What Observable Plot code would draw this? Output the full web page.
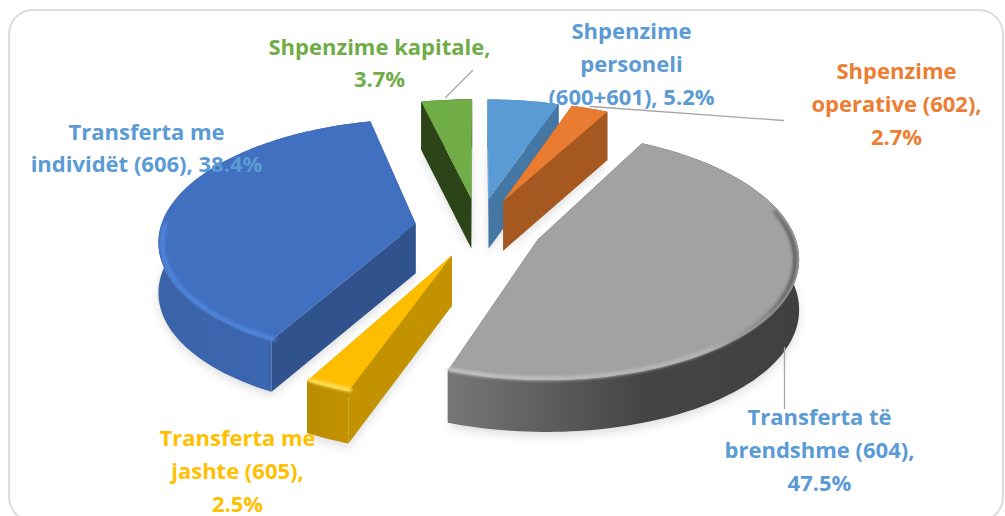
<!DOCTYPE html>
<html>
<head>
<meta charset="utf-8">
<script src="https://cdn.jsdelivr.net/npm/d3@7"></script>
<script src="https://cdn.jsdelivr.net/npm/@observablehq/plot@0.6"></script>
<style>html,body{margin:0;padding:0;background:#fff;overflow:hidden}svg{display:block}</style>
</head>
<body>
<div id="chart"></div>
<script>
// Data
const categories = ["Shpenzime personeli (600+601)", "Shpenzime operative (602)", "Transferta të brendshme (604)", "Transferta me jashte (605)", "Transferta me individët (606)", "Shpenzime kapitale"];
const shares = [5.2, 2.7, 47.5, 2.5, 38.4, 3.7];
const labels = ["Shpenzime\npersoneli\n(600+601), 5.2%", "Shpenzime\noperative (602),\n2.7%", "Transferta të\nbrendshme (604),\n47.5%", "Transferta me\njashte (605),\n2.5%", "Transferta me\nindividët (606), 38.4%", "Shpenzime kapitale,\n3.7%"];
const labelColors = ["#5b9bd5", "#ed7d31", "#5b9bd5", "#ffc000", "#5b9bd5", "#70ad47"];
const labelX = [631, 896, 819, 237, 146, 379];
const labelY = [61, 101, 447, 468, 145, 60];

// Styles and view parameters
const topColors = ["#5b9bd5", "#e97c30", "#a2a2a2", "#ffbd00", "#4270c0", "#70ad47"];
const faceColors = ["#4577a4", "#a5581f", "#555", "#c29200", "#30528d", "#2b4518"];
const wallStops = [["#4577a4", "#4577a4"], ["#a5581f", "#a5581f"], ["#777", "#454545"], ["#b98b00", "#c29200"], ["#3a63a8", "#3c6ab8"], ["#2b4518", "#2b4518"]];
const rimColors = ["#6aa8e0", "#f09050", "url(#rim2)", "#ffe060", "#4f86dc", "#80bd55"];
const drawOrder = [5, 0, 1, 4, 2, 3];
const view = {cx: 478, cy: 227, sx: 255, sy: 119, k: 0.127, depth: 50, pull: 0.25};

const project = (X, Y, drop = 0) => {
  const d = 1 + view.k * Y;
  return {x: view.cx + view.sx * X / d, y: view.cy - view.sy * Y / d + drop * (1 + 0.25 * (1 / d - 1))};
};

let cum = 0;
const slices = shares.map((v, i) => {
  const a0 = cum / 100 * 2 * Math.PI; cum += v;
  const a1 = cum / 100 * 2 * Math.PI;
  const mid = (a0 + a1) / 2;
  const ax = view.pull * Math.sin(mid), ay = view.pull * Math.cos(mid);
  const at = (a) => [ax + Math.sin(a), ay + Math.cos(a)];
  const arc = (from, to) => d3.range(0, 1.0001, 1 / Math.max(2, Math.ceil((to - from) / 0.025))).map(t => at(from + (to - from) * t));
  return {i, a0, a1, ax, ay, arc};
});

const polyMark = (pts, fill, extra = {}) => Plot.line(pts, {x: "x", y: "y", fill, stroke: extra.stroke ?? "none", curve: "linear-closed", ...extra});

const marks = [];
// gradients
marks.push(() => {
  const ns = "http://www.w3.org/2000/svg";
  const defs = document.createElementNS(ns, "defs");
  const grad = (id, stops, attrs) => {
    const g = document.createElementNS(ns, "linearGradient");
    g.setAttribute("id", id);
    for (const k in attrs) g.setAttribute(k, attrs[k]);
    for (const [o, c] of stops) {
      const s = document.createElementNS(ns, "stop");
      s.setAttribute("offset", o); s.setAttribute("stop-color", c);
      g.appendChild(s);
    }
    defs.appendChild(g);
  };
  wallStops.forEach((w, i) => grad(`wall${i}`, i === 2 ? [[0, w[0]], [0.55, w[1]], [1, "#404040"]] : [[0, w[0]], [1, w[1]]], {x1: 0, x2: 1, y1: 0, y2: 0}));
  grad("rim2", [[0, "#c4c4c4"], [0.72, "#b6b6b6"], [0.88, "#8a8a8a"], [0.97, "#5f5f5f"]], {gradientUnits: "userSpaceOnUse", x1: 450, x2: 800, y1: 0, y2: 0});
  return defs;
});

// card outline
marks.push(Plot.rect([0], {x1: () => 9, x2: () => 1003, y1: () => 10, y2: () => 521, fill: "none", stroke: "#dcdcdc", strokeWidth: 2, rx: 24}));

// soft shadow
for (const s of slices) {
  const outline = [[s.ax, s.ay], ...s.arc(s.a0, s.a1)].map(([X, Y]) => project(X, Y, view.depth + 4));
  marks.push(polyMark(outline, "#000", {fillOpacity: 0.13, imageFilter: "blur(5px)"}));
}

for (const idx of drawOrder) {
  const s = slices[idx];
  const apex = [s.ax, s.ay];
  const arc = s.arc(s.a0, s.a1);
  const top = [apex, ...arc].map(([X, Y]) => project(X, Y));
  // radial faces
  for (const end of [arc[0], arc[arc.length - 1]]) {
    const face = [project(...apex), project(...end), project(...end, view.depth), project(...apex, view.depth)];
    marks.push(polyMark(face, faceColors[idx]));
  }
  // outer wall
  const wall = [...arc.map(([X, Y]) => project(X, Y)), ...arc.slice().reverse().map(([X, Y]) => project(X, Y, view.depth))];
  marks.push(polyMark(wall, `url(#wall${idx})`));
  // top
  marks.push(polyMark(top, topColors[idx]));
  // rim highlight on the near part of the arc
  const nearFrom = Math.max(s.a0, Math.PI * 0.42), nearTo = Math.min(s.a1, Math.PI * 1.5);
  if (nearTo > nearFrom) {
    const rim = s.arc(nearFrom, nearTo).map(([X, Y]) => project(s.ax + (X - s.ax) * 0.985, s.ay + (Y - s.ay) * 0.985, 1));
    marks.push(Plot.line(rim, {x: "x", y: "y", stroke: rimColors[idx], strokeWidth: 4, imageFilter: "blur(1.8px)"}));
  }
}

// leader lines
const leaders = [
  [{x: 445, y: 97}, {x: 472, y: 70}],
  [{x: 590, y: 106}, {x: 783, y: 120}],
  [{x: 784, y: 347}, {x: 784, y: 408}]
];
for (const l of leaders) marks.push(Plot.line(l, {x: "x", y: "y", stroke: "#a6a6a6", strokeWidth: 1.3}));

// labels
marks.push(Plot.text(labels, {
  x: (d, i) => labelX[i], y: (d, i) => labelY[i], text: d => d,
  fill: (d, i) => labelColors[i],
  fontFamily: "Open Sans", fontWeight: 700, fontSize: 22, lineHeight: 1.49, textAnchor: "middle"
}));

const plot = Plot.plot({
  width: 1005, height: 516,
  marginTop: 0, marginRight: 0, marginBottom: 0, marginLeft: 0,
  style: {background: "#fff"},
  x: {domain: [0, 1005], range: [0, 1005], axis: null},
  y: {domain: [0, 516], range: [0, 516], axis: null},
  color: {type: "identity"},
  marks
});
document.getElementById("chart").appendChild(plot);
</script>
</body>
</html>
